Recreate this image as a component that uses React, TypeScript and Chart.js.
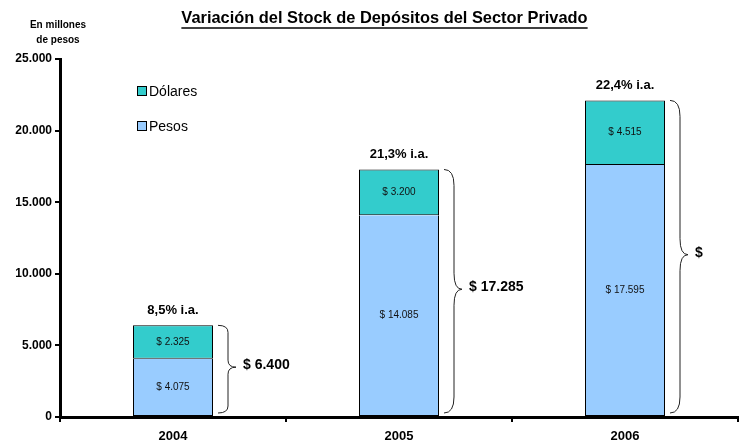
import React, { useEffect, useRef } from "react";
import { Chart, registerables } from "chart.js";

Chart.register(...registerables);

const years = ["2004", "2005", "2006"];
const pesos = [4075, 14085, 17595];
const dolares = [2325, 3200, 4515];
const growthLabels = ["8,5% i.a.", "21,3% i.a.", "22,4% i.a."];
const totalLabels = ["$ 6.400", "$ 17.285", "$"];
const yTicks = [0, 5000, 10000, 15000, 20000, 25000];
const title = "Variación del Stock de Depósitos del Sector Privado";
const unitLines = ["En millones", "de pesos"];
const legendNames = ["Dólares", "Pesos"];

const TEAL = "#33CCCC";
const BLUE = "#99CCFF";
const FONT = "'Liberation Sans', Arial, Helvetica, sans-serif";

const fmt = (v: number) => String(v).replace(/\B(?=(\d{3})+(?!\d))/g, ".");

const overlay = {
  id: "overlay",
  afterDraw(chart: any) {
    const ctx = chart.ctx as CanvasRenderingContext2D;
    ctx.save();
    ctx.fillStyle = "#000";
    ctx.strokeStyle = "#000";

    // title
    ctx.font = `bold 16.4px ${FONT}`;
    ctx.textAlign = "center";
    ctx.textBaseline = "middle";
    ctx.fillText(title, 384.5, 18);
    const tw = ctx.measureText(title).width;
    ctx.lineWidth = 1.5;
    ctx.beginPath();
    ctx.moveTo(384.5 - tw / 2, 28);
    ctx.lineTo(384.5 + tw / 2, 28);
    ctx.stroke();

    // units
    ctx.font = `bold 10px ${FONT}`;
    ctx.fillText(unitLines[0], 58, 25);
    ctx.fillText(unitLines[1], 58, 40);

    // legend
    const legColors = [TEAL, BLUE];
    const legY = [91, 126];
    ctx.font = `14px ${FONT}`;
    ctx.textAlign = "left";
    legendNames.forEach((n, i) => {
      ctx.fillStyle = legColors[i];
      ctx.fillRect(137.5, legY[i] - 4.5, 9, 9);
      ctx.strokeStyle = "#000";
      ctx.lineWidth = 1;
      ctx.strokeRect(137.5, legY[i] - 4.5, 9, 9);
      ctx.fillStyle = "#000";
      ctx.fillText(n, 149, legY[i] + 1);
    });

    const mp = chart.getDatasetMeta(0).data;
    const md = chart.getDatasetMeta(1).data;
    years.forEach((_, i) => {
      const bp: any = mp[i];
      const bd: any = md[i];
      // inside labels
      ctx.font = `10px ${FONT}`;
      ctx.textAlign = "center";
      ctx.fillStyle = "#111";
      ctx.fillText("$ " + fmt(pesos[i]), bp.x, (bp.y + bp.base) / 2);
      ctx.fillText("$ " + fmt(dolares[i]), bd.x, (bd.y + bd.base) / 2);

      // growth label
      ctx.fillStyle = "#000";
      ctx.font = `bold 13px ${FONT}`;
      ctx.fillText(growthLabels[i], bd.x, bd.y - 15);

      // brace
      const right = bd.x + bd.width / 2;
      const x0 = right + 5;
      const xv = right + 15;
      const xt = right + 23;
      const top = bd.y;
      const bottom = bp.base - 3;
      const h = bottom - top;
      const mid = (top + bottom) / 2 - 2;
      const r = Math.min(16, h * 0.08);
      ctx.strokeStyle = "#222";
      ctx.lineWidth = 1;
      ctx.beginPath();
      ctx.moveTo(x0, top);
      ctx.quadraticCurveTo(xv, top, xv, top + r);
      ctx.lineTo(xv, mid - r);
      ctx.quadraticCurveTo(xv, mid, xt, mid);
      ctx.quadraticCurveTo(xv, mid, xv, mid + r);
      ctx.lineTo(xv, bottom - r);
      ctx.quadraticCurveTo(xv, bottom, x0, bottom);
      ctx.stroke();

      ctx.fillStyle = "#000";
      ctx.font = `bold 14px ${FONT}`;
      ctx.textAlign = "left";
      ctx.fillText(totalLabels[i], right + 30, mid - 2);
    });
    ctx.restore();
  },
};

export default function App() {
  const ref = useRef<HTMLCanvasElement | null>(null);
  useEffect(() => {
    if (!ref.current) return;
    const chart = new Chart(ref.current, {
      type: "bar",
      data: {
        labels: years,
        datasets: [
          {
            label: legendNames[1],
            data: pesos,
            backgroundColor: BLUE,
            borderColor: "#000",
            borderWidth: 1,
            borderSkipped: "top",
            stack: "s",
          },
          {
            label: legendNames[0],
            data: dolares,
            backgroundColor: TEAL,
            borderColor: "#000",
            borderWidth: 1,
            borderSkipped: false,
            stack: "s",
          },
        ],
      },
      options: {
        responsive: false,
        animation: false,
        devicePixelRatio: 1,
        layout: { padding: { top: 59, right: 9, left: 0, bottom: 0 } },
        plugins: {
          legend: { display: false },
          tooltip: { enabled: false },
          title: { display: false },
        },
        datasets: {
          bar: { categoryPercentage: 1, barPercentage: 80 / 226 },
        },
        scales: {
          x: {
            stacked: true,
            grid: {
              drawOnChartArea: false,
              drawTicks: true,
              tickLength: 5,
              color: "#000",
              lineWidth: 2,
              offset: true,
            },
            border: { display: true, color: "#000", width: 3 },
            ticks: {
              color: "#000",
              font: { family: FONT, size: 13, weight: "bold" },
              padding: 7,
              maxRotation: 0,
            },
            afterFit: (s: any) => {
              s.height = 26;
            },
          },
          y: {
            stacked: true,
            min: 0,
            max: 25000,
            afterBuildTicks: (s: any) => {
              s.ticks = yTicks.map((v) => ({ value: v }));
            },
            grid: {
              drawOnChartArea: false,
              drawTicks: true,
              tickLength: 5,
              color: "#000",
              lineWidth: 2,
            },
            border: { display: true, color: "#000", width: 3 },
            ticks: {
              color: "#000",
              font: { family: FONT, size: 12, weight: "bold" },
              padding: 3,
              callback: (v: any) => fmt(Number(v)),
            },
            afterFit: (s: any) => {
              s.width = 60;
            },
          },
        },
      },
      plugins: [overlay],
    });
    return () => chart.destroy();
  }, []);
  return (
    <div style={{ position: "absolute", left: 0, top: 0, width: 747, height: 443, background: "#fff" }}>
      <canvas ref={ref} width={747} height={443} />
    </div>
  );
}
